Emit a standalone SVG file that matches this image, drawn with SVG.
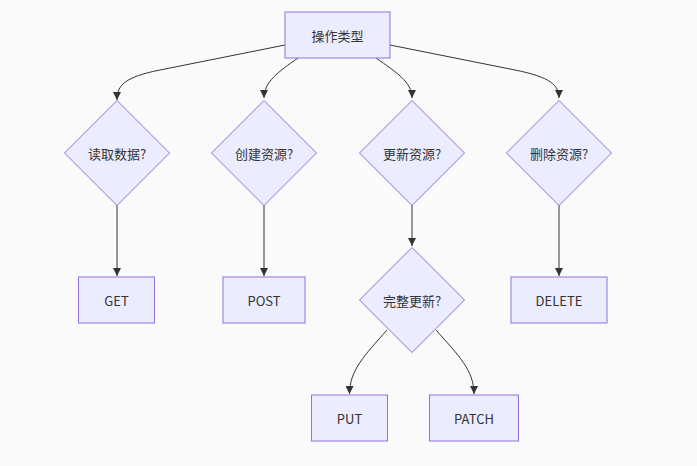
<svg xmlns="http://www.w3.org/2000/svg" width="697" height="466" viewBox="0 0 697 466">
<style>
.n{fill:#ECECFF;stroke:#9370DB;stroke-width:1}
.t{font-family:"Noto Sans CJK SC","Liberation Sans",sans-serif;font-size:13px;fill:#333;text-anchor:middle;dominant-baseline:central}
.e{fill:none;stroke:#333;stroke-width:1}
</style>
<defs>
<marker id="ah" viewBox="0 0 10 10" refX="10" refY="5" markerWidth="8" markerHeight="8" markerUnits="userSpaceOnUse" orient="auto">
<path d="M0,0 L10,5 L0,10 z" fill="#333"/>
</marker>
</defs>
<rect width="697" height="466" fill="#fafafa"/>
<g id="edges">
<path class="e" marker-end="url(#ah)" d="M285,45 L160,70 C125,77 117,85 117,100"/>
<path class="e" marker-end="url(#ah)" d="M298,58 C278,72 264,82 264,98"/>
<path class="e" marker-end="url(#ah)" d="M376,58 C396,72 412,82 412,98"/>
<path class="e" marker-end="url(#ah)" d="M390,45 L515,70 C550,77 559,85 559,98"/>
<path class="e" marker-end="url(#ah)" d="M117,205 L117,276"/>
<path class="e" marker-end="url(#ah)" d="M264,205 L264,276"/>
<path class="e" marker-end="url(#ah)" d="M412,205 L412,246"/>
<path class="e" marker-end="url(#ah)" d="M559,205 L559,276"/>
<path class="e" marker-end="url(#ah)" d="M387,330 C365,355 349.5,370 349.5,394"/>
<path class="e" marker-end="url(#ah)" d="M436,330 C458,355 474,370 474,394"/>
</g>
<g id="op"><rect class="n" x="285" y="12" width="105" height="46"/><text class="t" x="337.5" y="35">操作类型</text></g>
<g id="read"><polygon class="n" points="117,100.5 169.5,153 117,205.5 64.5,153"/><text class="t" x="117" y="153">读取数据?</text></g>
<g id="create"><polygon class="n" points="264,100.5 316.5,153 264,205.5 211.5,153"/><text class="t" x="264" y="153">创建资源?</text></g>
<g id="update"><polygon class="n" points="412,100.5 464.5,153 412,205.5 359.5,153"/><text class="t" x="412" y="153">更新资源?</text></g>
<g id="delete"><polygon class="n" points="559,100.5 611.5,153 559,205.5 506.5,153"/><text class="t" x="559" y="153">删除资源?</text></g>
<g id="full"><polygon class="n" points="412,247.5 464.5,300 412,352.5 359.5,300"/><text class="t" x="412" y="300">完整更新?</text></g>
<g id="get"><rect class="n" x="78.5" y="277" width="76" height="46"/><text class="t" x="116.5" y="300">GET</text></g>
<g id="post"><rect class="n" x="223" y="277" width="82" height="46"/><text class="t" x="264" y="300">POST</text></g>
<g id="del"><rect class="n" x="511" y="277" width="96" height="46"/><text class="t" x="559" y="300">DELETE</text></g>
<g id="put"><rect class="n" x="311.5" y="395" width="76" height="46"/><text class="t" x="349.5" y="418">PUT</text></g>
<g id="patch"><rect class="n" x="429.5" y="395" width="89" height="46"/><text class="t" x="474" y="418">PATCH</text></g>
</svg>
